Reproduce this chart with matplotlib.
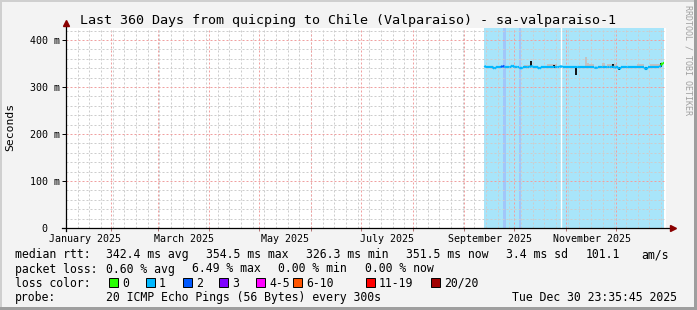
import matplotlib
matplotlib.use("Agg")
import matplotlib.pyplot as plt
import pandas as pd
from matplotlib.patches import Rectangle
from matplotlib.transforms import ScaledTranslation

# ---- data ----
t_start = pd.Timestamp("2025-01-04 23:35:45")
t_end = pd.Timestamp("2025-12-30 23:35:45")
first_sample = "2025-09-13"

median_ms = [
    345, 342, 342, 342, 342, 342, 339, 342, 342, 342,
    342, 345, 343, 342, 342, 342, 343, 346, 342, 343,
    342, 342, 339, 342, 342, 342, 343, 342, 345, 343,
    342, 342, 342, 339, 342, 342, 342, 342, 342, 342,
    342, 342, 342, 343, 342, 342, 345, 342, 342, 342,
    342, 342, 342, 342, 342, 342, 343, 342, 342, 342,
    342, 342, 342, 342, 342, 342, 342, 340, 342, 342,
    342, 343, 342, 342, 343, 343, 342, 344, 341, 342,
    342, 338, 342, 342, 342, 342, 343, 342, 342, 342,
    342, 342, 342, 342, 342, 342, 342, 337, 342, 342,
    342, 342, 342, 342, 342, 342, 346, 351.5, 351.5,
]
# lost pings (of 20) per sample
loss = [
    1, 1, 1, 1, 1, 1, 1, 1, 1, 1,
    1, 2, 2, 1, 1, 1, 1, 1, 1, 1,
    1, 1, 1, 1, 1, 1, 1, 1, 1, 1,
    1, 1, 1, 1, 1, 1, 1, 1, 1, 1,
    1, 1, 1, 1, 1, 1, 1, 1, 1, 1,
    1, 1, 1, 1, 1, 1, 1, 1, 1, 1,
    1, 1, 1, 1, 1, 1, 1, 1, 1, 1,
    1, 1, 1, 1, 1, 1, 1, 1, 1, 1,
    1, 1, 1, 1, 1, 1, 1, 1, 1, 1,
    1, 1, 1, 1, 1, 1, 1, 1, 1, 1,
    1, 1, 1, 1, 1, 1, 1, 0, 0,
]

# light smoke (sample index, top in ms)
smoke_idx = [1, 2, 3, 4, 5, 24, 25, 26, 27, 38, 39, 40, 41, 42, 43,
             61, 62, 63, 64, 65, 71, 72, 74, 75, 76, 77, 78, 79,
             92, 93, 94, 95, 100, 101, 102, 103, 104, 105]
smoke_top = [345, 345, 345, 345, 345, 347, 347, 347, 347, 348, 348, 348, 348, 348, 348,
             364, 352, 348, 348, 348, 352, 352, 350, 350, 350, 350, 350, 350,
             348, 348, 348, 348, 349, 349, 349, 349, 349, 349]
# dark smoke spikes
dark_idx = [28, 42, 55, 77, 81, 97, 106]
dark_lo = [342, 341, 326, 340, 336, 336, 342]
dark_hi = [355, 346, 342, 348, 342, 342, 352]

shade_from, shade_to = "2025-09-12 18:00", "2025-12-29 16:00"
stripe_from = ["2025-09-24 06:00", "2025-10-04 00:00"]
stripe_to = ["2025-09-25 18:00", "2025-10-05 06:00"]
gap_at = "2025-10-29 02:00"

loss_labels = ["0", "1", "2", "3", "4-5", "6-10", "11-19", "20/20"]
loss_colors = ["#26ff00", "#00b8ff", "#0059ff", "#7e00ff", "#ff00ff", "#ff5500", "#ff0000", "#a00000"]

rtt_stats = ["342.4 ms avg", "354.5 ms max", "326.3 ms min", "351.5 ms now", "3.4 ms sd", "101.1", "am/s"]
loss_stats = ["0.60 % avg", "6.49 % max", "0.00 % min", "0.00 % now"]
probe_text = "20 ICMP Echo Pings (56 Bytes) every 300s"
stamp = "Tue Dec 30 23:35:45 2025"
title = "Last 360 Days from quicping to Chile (Valparaiso) - sa-valparaiso-1"

# ---- figure ----
W, H = 697, 310
MONO = "DejaVu Sans Mono"
plt.rcParams["font.family"] = MONO
plt.rcParams["lines.scale_dashes"] = False

fig = plt.figure(figsize=(W / 100, H / 100), dpi=100, facecolor="#f3f3f3")
ax = fig.add_axes([66 / W, (H - 228) / H, 600 / W, 200 / H])
ax.set_facecolor("white")
ax.set_xlim(t_start, t_end)
ax.set_ylim(0, 200 / 0.47)
for s in ax.spines.values():
    s.set_visible(False)

dates = pd.date_range(first_sample, periods=len(median_ms), freq="D")


def loss_bin(n):
    if n <= 3:
        return n
    if n <= 5:
        return 4
    if n <= 10:
        return 5
    if n <= 19:
        return 6
    return 7


# background shading
ax.axvspan(pd.Timestamp(shade_from), pd.Timestamp(shade_to), color="#a8e5fa", lw=0, zorder=0.8)
for a, b in zip(stripe_from, stripe_to):
    ax.axvspan(pd.Timestamp(a), pd.Timestamp(b), color="#a2c6fa", lw=0, zorder=0.9)
ax.axvline(pd.Timestamp(gap_at), color="white", lw=1.0, zorder=0.9)

# grid, dotted
grid_gray = "#cdcdcd"
grid_red = "#f0a0a0"
dots = (0, (1.44, 1.44))
ax.set_yticks([0, 100, 200, 300, 400])
ax.set_yticks(list(range(0, 426, 20)), minor=True)
ax.grid(True, axis="y", which="minor", color=grid_gray, lw=0.72, ls=dots)
ax.grid(True, axis="y", which="major", color=grid_red, lw=0.72, ls=dots)
for d in pd.date_range("2025-01-05", "2025-12-28", freq="W-SUN"):
    ax.axvline(d, color=grid_gray, lw=0.72, ls=dots, zorder=1.5)
month_starts = pd.date_range("2025-02-01", "2025-12-01", freq="MS")
for d in month_starts:
    ax.axvline(d, color=grid_red, lw=0.72, ls=dots, zorder=1.5)

# smoke
ax.bar([dates[i] for i in smoke_idx],
       [t - median_ms[i] for i, t in zip(smoke_idx, smoke_top)],
       bottom=[median_ms[i] for i in smoke_idx],
       width=1.0, color="#c2c2c2", lw=0, zorder=2)
ax.vlines([dates[i] for i in dark_idx], dark_lo, dark_hi, color="#111111", lw=1.4, zorder=3)

# median line coloured by loss
for k in range(1, len(median_ms)):
    ax.plot(dates[k - 1:k + 1], median_ms[k - 1:k + 1],
            color=loss_colors[loss_bin(loss[k])], lw=1.6, zorder=4,
            solid_capstyle="butt")

# axes lines with arrows
ax.plot([-4 / 600, 606 / 600], [0, 0], transform=ax.transAxes, color="black", lw=0.9, clip_on=False, zorder=5)
ax.plot([0, 0], [-3 / 200, 203 / 200], transform=ax.transAxes, color="black", lw=0.9, clip_on=False, zorder=5)
ax.plot([607 / 600], [0], transform=ax.transAxes, marker=">", ms=5, color="#8a0000", clip_on=False, zorder=6)
ax.plot([0], [205 / 200], transform=ax.transAxes, marker="^", ms=5, color="#8a0000", clip_on=False, zorder=6)

# tick labels
ax.set_yticklabels(["0", "100 m", "200 m", "300 m", "400 m"], fontsize=7.2)
ax.tick_params(axis="y", which="major", length=2.9, width=0.7, pad=1.6, colors="black")
ax.tick_params(axis="y", which="minor", length=0)
zero_lbl = ax.get_yticklabels()[0]
zero_lbl.set_transform(zero_lbl.get_transform() + ScaledTranslation(-0.125, 0, fig.dpi_scale_trans))

mid_months = pd.to_datetime(["2025-01-16 12:00", "2025-03-16 12:00", "2025-05-16 12:00",
                             "2025-07-16 12:00", "2025-09-16 12:00", "2025-11-16 12:00"])
ax.set_xticks(mid_months)
ax.set_xticklabels(["January 2025", "March 2025", "May 2025",
                    "July 2025", "September 2025", "November 2025"], fontsize=7.2)
ax.tick_params(axis="x", which="major", length=0, pad=4.5)
ax.set_xticks(month_starts, minor=True)
ax.tick_params(axis="x", which="minor", length=2.2, width=0.7, colors="#b07070")


def ftext(x, y, s, **kw):
    return fig.text(x / W, 1 - y / H, s, **kw)


ftext(W / 2, 24, title, fontsize=9.6, ha="center", va="baseline")
ftext(10.5, 127, "Seconds", fontsize=8.2, rotation=90, ha="center", va="center")
ftext(688, 5, "RRDTOOL / TOBI OETIKER", fontsize=6.0, rotation=270, ha="center", va="top", color="#a0a0a0")

fs = 8.3
base = [258.3, 272.5, 286.7, 301]
ftext(15, base[0], "median rtt:", fontsize=fs, va="baseline")
for x, s in zip([106, 206, 306, 406, 506, 586, 641], rtt_stats):
    ftext(x, base[0], s, fontsize=fs, va="baseline")
ftext(15, base[1], "packet loss:", fontsize=fs, va="baseline")
for x, s in zip([106, 192, 278, 365], loss_stats):
    ftext(x, base[1], s, fontsize=fs, va="baseline")
ftext(15, base[2], "loss color:", fontsize=fs, va="baseline")
for x, s, c in zip([109, 146, 183, 219, 256, 293, 366, 431], loss_labels, loss_colors):
    fig.add_artist(Rectangle((x / W, 1 - 286.5 / H), 9 / W, 9 / H, transform=fig.transFigure,
                             facecolor=c, edgecolor="black", lw=0.7))
    ftext(x + 13, base[2], s, fontsize=fs, va="baseline")
ftext(15, base[3], "probe:", fontsize=fs, va="baseline")
ftext(106, base[3], probe_text, fontsize=fs, va="baseline")
ftext(512, base[3], stamp, fontsize=fs, va="baseline")

# frame around the image
fig.add_artist(Rectangle((0, 1 - 2 / H), 1, 2 / H, transform=fig.transFigure, color="#cfcfcf", lw=0))
fig.add_artist(Rectangle((0, 0), 2 / W, 1, transform=fig.transFigure, color="#cfcfcf", lw=0))
fig.add_artist(Rectangle((1 - 3 / W, 0), 3 / W, 1, transform=fig.transFigure, color="#9e9e9e", lw=0))
fig.add_artist(Rectangle((0, 0), 1, 3 / H, transform=fig.transFigure, color="#9e9e9e", lw=0))

fig.savefig("out.png", dpi=100, facecolor=fig.get_facecolor())
